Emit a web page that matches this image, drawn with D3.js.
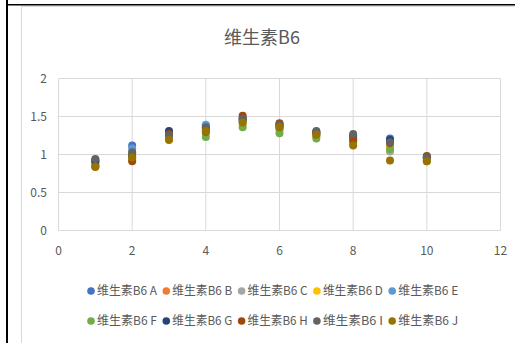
<!DOCTYPE html>
<html><head><meta charset="utf-8">
<script src="https://cdn.jsdelivr.net/npm/d3@7"></script>
<style>
html,body{margin:0;padding:0;background:#fff;}
svg{display:block;}
text{font-family:"Noto Sans CJK SC","Liberation Sans",sans-serif;fill:#595959;}
</style></head>
<body>
<svg id="c" width="515" height="343"></svg>
<script>
const title = "维生素B6";
const xValues = [1,2,3,4,5,6,7,8,9,10];
const seriesNames = ["维生素B6 A","维生素B6 B","维生素B6 C","维生素B6 D","维生素B6 E","维生素B6 F","维生素B6 G","维生素B6 H","维生素B6 I","维生素B6 J"];
const seriesColors = ["#4472C4","#ED7D31","#A5A5A5","#FFC000","#5B9BD5","#70AD47","#264478","#9E480E","#636363","#997300"];
const seriesA = [0.92,1.12,1.27,1.38,1.45,1.37,1.28,1.22,1.21,0.95];
const seriesB = [0.86,0.93,1.22,1.30,1.48,1.40,1.27,1.18,1.10,0.93];
const seriesC = [0.88,1.00,1.24,1.33,1.42,1.35,1.25,1.20,1.04,0.94];
const seriesD = [0.85,0.95,1.20,1.28,1.40,1.36,1.24,1.16,1.08,0.92];
const seriesE = [0.93,1.08,1.25,1.39,1.44,1.33,1.26,1.21,1.17,0.96];
const seriesF = [0.90,1.02,1.22,1.23,1.36,1.28,1.21,1.15,1.07,0.91];
const seriesG = [0.91,0.98,1.31,1.35,1.47,1.38,1.29,1.25,1.19,0.97];
const seriesH = [0.84,0.91,1.27,1.30,1.51,1.41,1.30,1.19,1.15,0.98];
const seriesI = [0.94,1.03,1.25,1.36,1.47,1.39,1.31,1.27,1.16,0.96];
const seriesJ = [0.84,0.96,1.19,1.31,1.42,1.36,1.26,1.12,0.92,0.91];
const allSeries = [seriesA,seriesB,seriesC,seriesD,seriesE,seriesF,seriesG,seriesH,seriesI,seriesJ];
const xTicks = [0,2,4,6,8,10,12];
const yTicks = [0,0.5,1,1.5,2];

const svg = d3.select("#c");
// outer frame (black)
svg.append("rect").attr("x",6).attr("y",0).attr("width",2).attr("height",343).attr("fill","#000");
svg.append("rect").attr("x",6).attr("y",4).attr("width",509).attr("height",1.5).attr("fill","#000");
// chart area border
svg.append("line").attr("x1",21.5).attr("x2",21.5).attr("y1",6).attr("y2",343).attr("stroke","#d9d9d9");
svg.append("line").attr("x1",21.5).attr("x2",515).attr("y1",6.5).attr("y2",6.5).attr("stroke","#d9d9d9");

const x = d3.scaleLinear().domain([0,12]).range([58.5,500.5]);
const y = d3.scaleLinear().domain([0,2]).range([230.5,78.5]);

const g = svg.append("g");
g.selectAll("line.h").data(yTicks).join("line").attr("class","h")
  .attr("x1",x(0)).attr("x2",x(12)).attr("y1",d=>y(d)).attr("y2",d=>y(d))
  .attr("stroke","#d9d9d9").attr("stroke-width",1);
g.selectAll("line.v").data(xTicks).join("line").attr("class","v")
  .attr("x1",d=>x(d)).attr("x2",d=>x(d)).attr("y1",y(0)).attr("y2",y(2))
  .attr("stroke","#d9d9d9").attr("stroke-width",1);

g.selectAll("text.yl").data(yTicks).join("text").attr("class","yl")
  .attr("x",47).attr("y",d=>y(d)).attr("dy","0.35em").attr("text-anchor","end")
  .attr("font-size",12).text(d=>d3.format("")(d));
g.selectAll("text.xl").data(xTicks).join("text").attr("class","xl")
  .attr("x",d=>x(d)).attr("y",251).attr("dy","0.35em").attr("text-anchor","middle")
  .attr("font-size",12).text(d=>d);

svg.append("text").attr("x",262).attr("y",38).attr("dy","0.35em").attr("text-anchor","middle")
  .attr("font-size",18).text(title);

allSeries.forEach((vals,i)=>{
  g.append("g").selectAll("circle").data(vals).join("circle")
    .attr("cx",(d,j)=>x(xValues[j])).attr("cy",d=>y(d)).attr("r",4)
    .attr("fill",seriesColors[i]);
});

// legend
const lg = svg.append("g");
seriesNames.forEach((n,i)=>{
  const row = Math.floor(i/5), col = i%5;
  const lx = 91 + col*75.3, ly = 291 + row*30;
  lg.append("circle").attr("cx",lx).attr("cy",ly).attr("r",3.8).attr("fill",seriesColors[i]);
  lg.append("text").attr("x",lx+6).attr("y",ly).attr("dy","0.35em").attr("font-size",12)
    .attr("textLength",60).attr("lengthAdjust","spacingAndGlyphs").text(n);
});
</script>
</body></html>
